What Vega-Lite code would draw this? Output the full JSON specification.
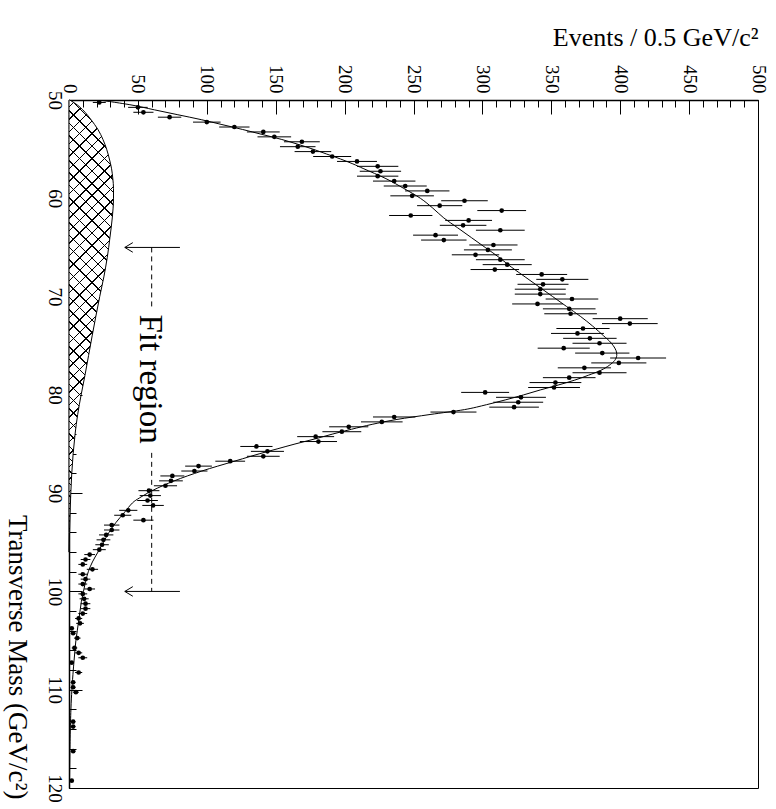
{
"$schema": "https://vega.github.io/schema/vega-lite/v6.json",
"width": 689, "height": 688,
"autosize": {"type": "none"},
"padding": {"left": 69, "top": 100, "right": 18, "bottom": 21},
"background": "white",
"config": {
 "view": {"stroke": "black", "strokeWidth": 1},
 "font": "Liberation Serif",
 "axis": {"grid": false, "domainColor": "black", "tickColor": "black", "labelColor": "black", "titleColor": "black", "labelFont": "Liberation Serif", "titleFont": "Liberation Serif", "titleFontWeight": "normal", "tickWidth": 1}
},
"datasets": {
 "pts": [
 {"m":50.25,"n":22,"e":4.7},{"m":50.75,"n":50,"e":7.1},{"m":51.25,"n":54,"e":7.3},{"m":51.75,"n":73,"e":8.5},
 {"m":52.25,"n":100,"e":10},{"m":52.75,"n":120,"e":11},{"m":53.25,"n":141,"e":11.9},{"m":53.75,"n":149,"e":12.2},
 {"m":54.25,"n":169,"e":13},{"m":54.75,"n":166,"e":12.9},{"m":55.25,"n":177,"e":13.3},{"m":55.75,"n":191,"e":13.8},
 {"m":56.25,"n":209,"e":14.5},{"m":56.75,"n":224,"e":15},{"m":57.25,"n":226,"e":15},{"m":57.75,"n":224,"e":15},
 {"m":58.25,"n":236,"e":15.4},{"m":58.75,"n":244,"e":15.6},{"m":59.25,"n":260,"e":16.1},{"m":59.75,"n":249,"e":15.8},
 {"m":60.25,"n":287,"e":16.9},{"m":60.75,"n":269,"e":16.4},{"m":61.25,"n":314,"e":17.7},{"m":61.75,"n":248,"e":15.7},
 {"m":62.25,"n":290,"e":17},{"m":62.75,"n":286,"e":16.9},{"m":63.25,"n":313,"e":17.7},{"m":63.75,"n":266,"e":16.3},
 {"m":64.25,"n":272,"e":16.5},{"m":64.75,"n":308,"e":17.5},{"m":65.25,"n":304,"e":17.4},{"m":65.75,"n":295,"e":17.2},
 {"m":66.25,"n":313,"e":17.7},{"m":66.75,"n":318,"e":17.8},{"m":67.25,"n":309,"e":17.6},{"m":67.75,"n":343,"e":18.5},
 {"m":68.25,"n":358,"e":18.9},{"m":68.75,"n":344,"e":18.5},{"m":69.25,"n":342,"e":18.5},{"m":69.75,"n":342,"e":18.5},
 {"m":70.25,"n":365,"e":19.1},{"m":70.75,"n":340,"e":18.4},{"m":71.25,"n":363,"e":19.1},{"m":71.75,"n":364,"e":19.1},
 {"m":72.25,"n":400,"e":20},{"m":72.75,"n":407,"e":20.2},{"m":73.25,"n":373,"e":19.3},{"m":73.75,"n":369,"e":19.2},
 {"m":74.25,"n":378,"e":19.4},{"m":74.75,"n":385,"e":19.6},{"m":75.25,"n":359,"e":18.9},{"m":75.75,"n":387,"e":19.7},
 {"m":76.25,"n":413,"e":20.3},{"m":76.75,"n":399,"e":20},{"m":77.25,"n":374,"e":19.3},{"m":77.75,"n":385,"e":19.6},
 {"m":78.25,"n":363,"e":19.1},{"m":78.75,"n":353,"e":18.8},{"m":79.25,"n":352,"e":18.8},{"m":79.75,"n":302,"e":17.4},
 {"m":80.25,"n":328,"e":18.1},{"m":80.75,"n":326,"e":18.1},{"m":81.25,"n":323,"e":18},{"m":81.75,"n":279,"e":16.7},
 {"m":82.25,"n":236,"e":15.4},{"m":82.75,"n":227,"e":15.1},{"m":83.25,"n":203,"e":14.2},{"m":83.75,"n":198,"e":14.1},
 {"m":84.25,"n":179,"e":13.4},{"m":84.75,"n":181,"e":13.5},{"m":85.25,"n":136,"e":11.7},{"m":85.75,"n":144,"e":12},
 {"m":86.25,"n":141,"e":11.9},{"m":86.75,"n":117,"e":10.8},{"m":87.25,"n":94,"e":9.7},{"m":87.75,"n":91,"e":9.5},
 {"m":88.25,"n":75,"e":8.7},{"m":88.75,"n":74,"e":8.6},{"m":89.25,"n":70,"e":8.4},{"m":89.75,"n":58,"e":7.6},
 {"m":90.25,"n":59,"e":7.7},{"m":90.75,"n":57,"e":7.5},{"m":91.25,"n":61,"e":7.8},{"m":91.75,"n":43,"e":6.6},
 {"m":92.25,"n":39,"e":6.2},{"m":92.75,"n":54,"e":7.3},{"m":93.25,"n":31,"e":5.6},{"m":93.75,"n":31,"e":5.6},
 {"m":94.25,"n":27,"e":5.2},{"m":94.75,"n":25,"e":5},{"m":95.25,"n":24,"e":4.9},{"m":95.75,"n":22,"e":4.7},
 {"m":96.25,"n":15,"e":3.9},{"m":96.75,"n":12,"e":3.5},{"m":97.25,"n":10,"e":3.2},{"m":97.75,"n":17,"e":4.1},
 {"m":98.25,"n":10,"e":3.2},{"m":98.75,"n":12,"e":3.5},{"m":99.25,"n":10,"e":3.2},{"m":99.75,"n":15,"e":3.9},
 {"m":100.25,"n":10,"e":3.2},{"m":100.75,"n":11,"e":3.3},{"m":101.25,"n":12,"e":3.5},{"m":101.75,"n":12,"e":3.5},
 {"m":102.25,"n":10,"e":3.2},{"m":102.75,"n":7,"e":2.6},{"m":103.25,"n":8,"e":2.8},{"m":103.75,"n":2,"e":1.4},
 {"m":104.25,"n":3,"e":1.7},{"m":104.75,"n":6,"e":2.4},{"m":105.75,"n":4,"e":2},{"m":106.25,"n":7,"e":2.6},
 {"m":106.75,"n":10,"e":3.2},{"m":107.25,"n":2,"e":1.4},{"m":108.25,"n":7,"e":2.6},{"m":109.25,"n":3,"e":1.7},
 {"m":109.75,"n":3,"e":1.7},{"m":110.25,"n":5,"e":2.2},{"m":113.25,"n":3,"e":1.7},{"m":113.75,"n":3,"e":1.7},
 {"m":116.25,"n":3,"e":1.7},{"m":119.25,"n":2,"e":1.4}
 ],
 "fit": [
 {"m":50,"f":22},{"m":50.5,"f":45},{"m":51,"f":62},{"m":51.5,"f":79},{"m":52,"f":96},{"m":52.5,"f":111},{"m":53,"f":126},{"m":53.5,"f":140},
 {"m":54,"f":154},{"m":54.5,"f":166},{"m":55,"f":177},{"m":55.5,"f":187},{"m":56,"f":197},{"m":56.5,"f":206},{"m":57,"f":214},{"m":58,"f":230},
 {"m":59,"f":243},{"m":60,"f":255},{"m":61,"f":264},{"m":62,"f":272},{"m":63,"f":282},{"m":64,"f":292},{"m":65,"f":302},{"m":66,"f":312},
 {"m":67,"f":321},{"m":68,"f":331},{"m":69,"f":341},{"m":70,"f":351},{"m":71,"f":361},{"m":72,"f":371},{"m":73,"f":380},{"m":74,"f":388},
 {"m":74.5,"f":392},{"m":75,"f":395},{"m":75.5,"f":397},{"m":76,"f":397.5},{"m":76.5,"f":396},{"m":77,"f":392},{"m":77.5,"f":386},{"m":78,"f":377},
 {"m":78.5,"f":367},{"m":79,"f":355},{"m":79.5,"f":342},{"m":80,"f":330},{"m":80.5,"f":317},{"m":81,"f":303},{"m":81.5,"f":287},{"m":82,"f":262},
 {"m":82.5,"f":238},{"m":83,"f":220},{"m":83.5,"f":205},{"m":84,"f":191},{"m":84.5,"f":178},{"m":85,"f":164},{"m":85.5,"f":151},{"m":86,"f":138},
 {"m":86.5,"f":126},{"m":87,"f":114},{"m":87.5,"f":102},{"m":88,"f":91},{"m":88.5,"f":81},{"m":89,"f":72},{"m":89.5,"f":64},{"m":90,"f":57},
 {"m":90.5,"f":51},{"m":91,"f":46},{"m":92,"f":40},{"m":93,"f":34},{"m":94,"f":29},{"m":95,"f":25},{"m":96,"f":21},{"m":97,"f":17},
 {"m":98,"f":14},{"m":99,"f":12},{"m":100,"f":10.5},{"m":101,"f":9},{"m":102,"f":8},{"m":103,"f":7},{"m":104,"f":6},{"m":105,"f":5},
 {"m":106,"f":4.3},{"m":107,"f":3.7},{"m":108,"f":3.1},{"m":110,"f":2.1},{"m":112,"f":1.4},{"m":115,"f":0.8},{"m":120,"f":0.3}
 ],
 "bg": [
 {"m":50,"b":0.5},{"m":50.5,"b":6},{"m":51,"b":10},{"m":51.5,"b":13.2},{"m":52,"b":16},{"m":52.5,"b":18.6},{"m":53,"b":21},{"m":54,"b":24.6},
 {"m":55,"b":27.3},{"m":56,"b":29.3},{"m":57,"b":30.9},{"m":58,"b":31.8},{"m":59,"b":32.3},{"m":60,"b":32.3},{"m":61,"b":32},{"m":62,"b":31.4},
 {"m":63,"b":30.6},{"m":64,"b":29.7},{"m":65,"b":28.8},{"m":66,"b":27.8},{"m":67,"b":26.6},{"m":68,"b":25.3},{"m":70,"b":22.3},{"m":72,"b":19.5},
 {"m":74,"b":16.8},{"m":76,"b":14.2},{"m":78,"b":11.6},{"m":80,"b":8.8},{"m":82,"b":6.3},{"m":84,"b":4.4},{"m":86,"b":3},{"m":88,"b":2},
 {"m":90,"b":1.3},{"m":92,"b":0.8},{"m":94,"b":0.4},{"m":96,"b":0.1}
 ],
 "arrows": [{"m":65,"e1":40.5,"e2":80.5},{"m":100,"e1":40.5,"e2":80.5}],
 "dash": [{"e":60,"m1":65,"m2":71.1},{"e":60,"m1":85.9,"m2":100}],
 "label": [{"m":78.4,"e":59,"t":"Fit region"}]
},
"layer": [
 {
  "data": {"name": "bg"},
  "mark": {"type": "area", "orient": "horizontal", "interpolate": "monotone", "stroke": null,
   "fill": {"gradient": "linear", "x1": 0, "y1": 0, "x2": 0.1071, "y2": 1.0879, "stops": [
{"offset":0.0125,"color":"white"},{"offset":0.0125,"color":"black"},{"offset":0.0155,"color":"black"},{"offset":0.0155,"color":"white"},
{"offset":0.0375,"color":"white"},{"offset":0.0375,"color":"black"},{"offset":0.0405,"color":"black"},{"offset":0.0405,"color":"white"},
{"offset":0.0625,"color":"white"},{"offset":0.0625,"color":"black"},{"offset":0.0655,"color":"black"},{"offset":0.0655,"color":"white"},
{"offset":0.0875,"color":"white"},{"offset":0.0875,"color":"black"},{"offset":0.0905,"color":"black"},{"offset":0.0905,"color":"white"},
{"offset":0.1125,"color":"white"},{"offset":0.1125,"color":"black"},{"offset":0.1155,"color":"black"},{"offset":0.1155,"color":"white"},
{"offset":0.1375,"color":"white"},{"offset":0.1375,"color":"black"},{"offset":0.1405,"color":"black"},{"offset":0.1405,"color":"white"},
{"offset":0.1625,"color":"white"},{"offset":0.1625,"color":"black"},{"offset":0.1655,"color":"black"},{"offset":0.1655,"color":"white"},
{"offset":0.1875,"color":"white"},{"offset":0.1875,"color":"black"},{"offset":0.1905,"color":"black"},{"offset":0.1905,"color":"white"},
{"offset":0.2125,"color":"white"},{"offset":0.2125,"color":"black"},{"offset":0.2155,"color":"black"},{"offset":0.2155,"color":"white"},
{"offset":0.2375,"color":"white"},{"offset":0.2375,"color":"black"},{"offset":0.2405,"color":"black"},{"offset":0.2405,"color":"white"},
{"offset":0.2625,"color":"white"},{"offset":0.2625,"color":"black"},{"offset":0.2655,"color":"black"},{"offset":0.2655,"color":"white"},
{"offset":0.2875,"color":"white"},{"offset":0.2875,"color":"black"},{"offset":0.2905,"color":"black"},{"offset":0.2905,"color":"white"},
{"offset":0.3125,"color":"white"},{"offset":0.3125,"color":"black"},{"offset":0.3155,"color":"black"},{"offset":0.3155,"color":"white"},
{"offset":0.3375,"color":"white"},{"offset":0.3375,"color":"black"},{"offset":0.3405,"color":"black"},{"offset":0.3405,"color":"white"},
{"offset":0.3625,"color":"white"},{"offset":0.3625,"color":"black"},{"offset":0.3655,"color":"black"},{"offset":0.3655,"color":"white"},
{"offset":0.3875,"color":"white"},{"offset":0.3875,"color":"black"},{"offset":0.3905,"color":"black"},{"offset":0.3905,"color":"white"},
{"offset":0.4125,"color":"white"},{"offset":0.4125,"color":"black"},{"offset":0.4155,"color":"black"},{"offset":0.4155,"color":"white"},
{"offset":0.4375,"color":"white"},{"offset":0.4375,"color":"black"},{"offset":0.4405,"color":"black"},{"offset":0.4405,"color":"white"},
{"offset":0.4625,"color":"white"},{"offset":0.4625,"color":"black"},{"offset":0.4655,"color":"black"},{"offset":0.4655,"color":"white"},
{"offset":0.4875,"color":"white"},{"offset":0.4875,"color":"black"},{"offset":0.4905,"color":"black"},{"offset":0.4905,"color":"white"},
{"offset":0.5125,"color":"white"},{"offset":0.5125,"color":"black"},{"offset":0.5155,"color":"black"},{"offset":0.5155,"color":"white"},
{"offset":0.5375,"color":"white"},{"offset":0.5375,"color":"black"},{"offset":0.5405,"color":"black"},{"offset":0.5405,"color":"white"},
{"offset":0.5625,"color":"white"},{"offset":0.5625,"color":"black"},{"offset":0.5655,"color":"black"},{"offset":0.5655,"color":"white"},
{"offset":0.5875,"color":"white"},{"offset":0.5875,"color":"black"},{"offset":0.5905,"color":"black"},{"offset":0.5905,"color":"white"},
{"offset":0.6125,"color":"white"},{"offset":0.6125,"color":"black"},{"offset":0.6155,"color":"black"},{"offset":0.6155,"color":"white"},
{"offset":0.6375,"color":"white"},{"offset":0.6375,"color":"black"},{"offset":0.6405,"color":"black"},{"offset":0.6405,"color":"white"},
{"offset":0.6625,"color":"white"},{"offset":0.6625,"color":"black"},{"offset":0.6655,"color":"black"},{"offset":0.6655,"color":"white"},
{"offset":0.6875,"color":"white"},{"offset":0.6875,"color":"black"},{"offset":0.6905,"color":"black"},{"offset":0.6905,"color":"white"},
{"offset":0.7125,"color":"white"},{"offset":0.7125,"color":"black"},{"offset":0.7155,"color":"black"},{"offset":0.7155,"color":"white"},
{"offset":0.7375,"color":"white"},{"offset":0.7375,"color":"black"},{"offset":0.7405,"color":"black"},{"offset":0.7405,"color":"white"},
{"offset":0.7625,"color":"white"},{"offset":0.7625,"color":"black"},{"offset":0.7655,"color":"black"},{"offset":0.7655,"color":"white"},
{"offset":0.7875,"color":"white"},{"offset":0.7875,"color":"black"},{"offset":0.7905,"color":"black"},{"offset":0.7905,"color":"white"},
{"offset":0.8125,"color":"white"},{"offset":0.8125,"color":"black"},{"offset":0.8155,"color":"black"},{"offset":0.8155,"color":"white"},
{"offset":0.8375,"color":"white"},{"offset":0.8375,"color":"black"},{"offset":0.8405,"color":"black"},{"offset":0.8405,"color":"white"},
{"offset":0.8625,"color":"white"},{"offset":0.8625,"color":"black"},{"offset":0.8655,"color":"black"},{"offset":0.8655,"color":"white"},
{"offset":0.8875,"color":"white"},{"offset":0.8875,"color":"black"},{"offset":0.8905,"color":"black"},{"offset":0.8905,"color":"white"},
{"offset":0.9125,"color":"white"},{"offset":0.9125,"color":"black"},{"offset":0.9155,"color":"black"},{"offset":0.9155,"color":"white"},
{"offset":0.9375,"color":"white"},{"offset":0.9375,"color":"black"},{"offset":0.9405,"color":"black"},{"offset":0.9405,"color":"white"},
{"offset":0.9625,"color":"white"},{"offset":0.9625,"color":"black"},{"offset":0.9655,"color":"black"},{"offset":0.9655,"color":"white"},
{"offset":0.9875,"color":"white"},{"offset":0.9875,"color":"black"},{"offset":0.9905,"color":"black"},{"offset":0.9905,"color":"white"}
   ]}},
  "encoding": {
   "y": {"field": "m", "type": "quantitative", "scale": {"domain": [50, 120], "reverse": true, "nice": false, "zero": false},
    "axis": {"orient": "left", "values": [50,60,70,80,90,100,110,120], "tickSize": -13, "domainWidth": 1.5,
     "labelAngle": 90, "labelAlign": "center", "labelBaseline": "top", "labelPadding": 19, "labelFontSize": 19, "labelFont": "Liberation Serif",
     "labelFlush": false, "labelOverlap": false, "labelBound": false,
     "title": "Transverse Mass (GeV/c²)", "titleFont": "Liberation Serif", "titleAngle": 90, "titleFontSize": 27, "titleAlign": "right", "titleBaseline": "alphabetic", "titleX": -61, "titleY": 699}},
   "x": {"field": "b", "type": "quantitative", "scale": {"domain": [0, 500], "nice": false, "zero": false},
    "axis": {"orient": "top", "values": [0,50,100,150,200,250,300,350,400,450,500], "tickSize": -14, "domainWidth": 1.5,
     "labelAngle": 90, "labelAlign": "right", "labelBaseline": "middle", "labelPadding": 21, "labelFontSize": 19, "labelFont": "Liberation Serif",
     "labelFlush": false, "labelOverlap": false, "labelBound": false,
     "title": "Events / 0.5 GeV/c²", "titleFont": "Liberation Serif", "titleAngle": 0, "titleFontSize": 26, "titleAlign": "right", "titleBaseline": "alphabetic", "titleX": 689, "titleY": -55}},
   "x2": {"datum": 0}
  }
 },
 {
  "data": {"name": "bg"},
  "mark": {"type": "area", "orient": "horizontal", "interpolate": "monotone", "stroke": "black", "strokeWidth": 1,
   "fill": {"gradient": "linear", "x1": 0, "y1": 1, "x2": 0.1071, "y2": -0.0879, "stops": [
{"offset":0.0125,"color":"transparent"},{"offset":0.0125,"color":"black"},{"offset":0.0155,"color":"black"},{"offset":0.0155,"color":"transparent"},
{"offset":0.0375,"color":"transparent"},{"offset":0.0375,"color":"black"},{"offset":0.0405,"color":"black"},{"offset":0.0405,"color":"transparent"},
{"offset":0.0625,"color":"transparent"},{"offset":0.0625,"color":"black"},{"offset":0.0655,"color":"black"},{"offset":0.0655,"color":"transparent"},
{"offset":0.0875,"color":"transparent"},{"offset":0.0875,"color":"black"},{"offset":0.0905,"color":"black"},{"offset":0.0905,"color":"transparent"},
{"offset":0.1125,"color":"transparent"},{"offset":0.1125,"color":"black"},{"offset":0.1155,"color":"black"},{"offset":0.1155,"color":"transparent"},
{"offset":0.1375,"color":"transparent"},{"offset":0.1375,"color":"black"},{"offset":0.1405,"color":"black"},{"offset":0.1405,"color":"transparent"},
{"offset":0.1625,"color":"transparent"},{"offset":0.1625,"color":"black"},{"offset":0.1655,"color":"black"},{"offset":0.1655,"color":"transparent"},
{"offset":0.1875,"color":"transparent"},{"offset":0.1875,"color":"black"},{"offset":0.1905,"color":"black"},{"offset":0.1905,"color":"transparent"},
{"offset":0.2125,"color":"transparent"},{"offset":0.2125,"color":"black"},{"offset":0.2155,"color":"black"},{"offset":0.2155,"color":"transparent"},
{"offset":0.2375,"color":"transparent"},{"offset":0.2375,"color":"black"},{"offset":0.2405,"color":"black"},{"offset":0.2405,"color":"transparent"},
{"offset":0.2625,"color":"transparent"},{"offset":0.2625,"color":"black"},{"offset":0.2655,"color":"black"},{"offset":0.2655,"color":"transparent"},
{"offset":0.2875,"color":"transparent"},{"offset":0.2875,"color":"black"},{"offset":0.2905,"color":"black"},{"offset":0.2905,"color":"transparent"},
{"offset":0.3125,"color":"transparent"},{"offset":0.3125,"color":"black"},{"offset":0.3155,"color":"black"},{"offset":0.3155,"color":"transparent"},
{"offset":0.3375,"color":"transparent"},{"offset":0.3375,"color":"black"},{"offset":0.3405,"color":"black"},{"offset":0.3405,"color":"transparent"},
{"offset":0.3625,"color":"transparent"},{"offset":0.3625,"color":"black"},{"offset":0.3655,"color":"black"},{"offset":0.3655,"color":"transparent"},
{"offset":0.3875,"color":"transparent"},{"offset":0.3875,"color":"black"},{"offset":0.3905,"color":"black"},{"offset":0.3905,"color":"transparent"},
{"offset":0.4125,"color":"transparent"},{"offset":0.4125,"color":"black"},{"offset":0.4155,"color":"black"},{"offset":0.4155,"color":"transparent"},
{"offset":0.4375,"color":"transparent"},{"offset":0.4375,"color":"black"},{"offset":0.4405,"color":"black"},{"offset":0.4405,"color":"transparent"},
{"offset":0.4625,"color":"transparent"},{"offset":0.4625,"color":"black"},{"offset":0.4655,"color":"black"},{"offset":0.4655,"color":"transparent"},
{"offset":0.4875,"color":"transparent"},{"offset":0.4875,"color":"black"},{"offset":0.4905,"color":"black"},{"offset":0.4905,"color":"transparent"},
{"offset":0.5125,"color":"transparent"},{"offset":0.5125,"color":"black"},{"offset":0.5155,"color":"black"},{"offset":0.5155,"color":"transparent"},
{"offset":0.5375,"color":"transparent"},{"offset":0.5375,"color":"black"},{"offset":0.5405,"color":"black"},{"offset":0.5405,"color":"transparent"},
{"offset":0.5625,"color":"transparent"},{"offset":0.5625,"color":"black"},{"offset":0.5655,"color":"black"},{"offset":0.5655,"color":"transparent"},
{"offset":0.5875,"color":"transparent"},{"offset":0.5875,"color":"black"},{"offset":0.5905,"color":"black"},{"offset":0.5905,"color":"transparent"},
{"offset":0.6125,"color":"transparent"},{"offset":0.6125,"color":"black"},{"offset":0.6155,"color":"black"},{"offset":0.6155,"color":"transparent"},
{"offset":0.6375,"color":"transparent"},{"offset":0.6375,"color":"black"},{"offset":0.6405,"color":"black"},{"offset":0.6405,"color":"transparent"},
{"offset":0.6625,"color":"transparent"},{"offset":0.6625,"color":"black"},{"offset":0.6655,"color":"black"},{"offset":0.6655,"color":"transparent"},
{"offset":0.6875,"color":"transparent"},{"offset":0.6875,"color":"black"},{"offset":0.6905,"color":"black"},{"offset":0.6905,"color":"transparent"},
{"offset":0.7125,"color":"transparent"},{"offset":0.7125,"color":"black"},{"offset":0.7155,"color":"black"},{"offset":0.7155,"color":"transparent"},
{"offset":0.7375,"color":"transparent"},{"offset":0.7375,"color":"black"},{"offset":0.7405,"color":"black"},{"offset":0.7405,"color":"transparent"},
{"offset":0.7625,"color":"transparent"},{"offset":0.7625,"color":"black"},{"offset":0.7655,"color":"black"},{"offset":0.7655,"color":"transparent"},
{"offset":0.7875,"color":"transparent"},{"offset":0.7875,"color":"black"},{"offset":0.7905,"color":"black"},{"offset":0.7905,"color":"transparent"},
{"offset":0.8125,"color":"transparent"},{"offset":0.8125,"color":"black"},{"offset":0.8155,"color":"black"},{"offset":0.8155,"color":"transparent"},
{"offset":0.8375,"color":"transparent"},{"offset":0.8375,"color":"black"},{"offset":0.8405,"color":"black"},{"offset":0.8405,"color":"transparent"},
{"offset":0.8625,"color":"transparent"},{"offset":0.8625,"color":"black"},{"offset":0.8655,"color":"black"},{"offset":0.8655,"color":"transparent"},
{"offset":0.8875,"color":"transparent"},{"offset":0.8875,"color":"black"},{"offset":0.8905,"color":"black"},{"offset":0.8905,"color":"transparent"},
{"offset":0.9125,"color":"transparent"},{"offset":0.9125,"color":"black"},{"offset":0.9155,"color":"black"},{"offset":0.9155,"color":"transparent"},
{"offset":0.9375,"color":"transparent"},{"offset":0.9375,"color":"black"},{"offset":0.9405,"color":"black"},{"offset":0.9405,"color":"transparent"},
{"offset":0.9625,"color":"transparent"},{"offset":0.9625,"color":"black"},{"offset":0.9655,"color":"black"},{"offset":0.9655,"color":"transparent"},
{"offset":0.9875,"color":"transparent"},{"offset":0.9875,"color":"black"},{"offset":0.9905,"color":"black"},{"offset":0.9905,"color":"transparent"}
   ]}},
  "encoding": {
   "y": {"field": "m", "type": "quantitative", "scale": {"domain": [50, 120], "reverse": true, "nice": false, "zero": false},
    "axis": {"orient": "left", "values": [50,52,54,56,58,60,62,64,66,68,70,72,74,76,78,80,82,84,86,88,90,92,94,96,98,100,102,104,106,108,110,112,114,116,118,120], "tickSize": -7, "labels": false, "domain": false, "title": null}},
   "x": {"field": "b", "type": "quantitative", "scale": {"domain": [0, 500], "nice": false, "zero": false},
    "axis": {"orient": "top", "values": [0,10,20,30,40,50,60,70,80,90,100,110,120,130,140,150,160,170,180,190,200,210,220,230,240,250,260,270,280,290,300,310,320,330,340,350,360,370,380,390,400,410,420,430,440,450,460,470,480,490,500], "tickSize": -7, "labels": false, "domain": false, "title": null}},
   "x2": {"datum": 0}
  }
 },
 {
  "data": {"name": "fit"},
  "mark": {"type": "line", "color": "black", "strokeWidth": 1, "interpolate": "cardinal", "clip": true},
  "encoding": {
   "y": {"field": "m", "type": "quantitative", "scale": {"domain": [50, 120], "reverse": true, "nice": false, "zero": false}, "axis": null},
   "x": {"field": "f", "type": "quantitative", "scale": {"domain": [0, 500], "nice": false, "zero": false}, "axis": null},
   "order": {"field": "m", "type": "quantitative"}
  }
 },
 {
  "data": {"name": "pts"},
  "mark": {"type": "errorbar", "color": "black", "thickness": 1},
  "encoding": {
   "y": {"field": "m", "type": "quantitative", "scale": {"domain": [50, 120], "reverse": true, "nice": false, "zero": false}, "axis": null},
   "x": {"field": "n", "type": "quantitative", "scale": {"domain": [0, 500], "nice": false, "zero": false}, "axis": null},
   "xError": {"field": "e"}
  }
 },
 {
  "data": {"name": "pts"},
  "mark": {"type": "circle", "color": "black", "size": 22, "opacity": 1},
  "encoding": {
   "y": {"field": "m", "type": "quantitative", "scale": {"domain": [50, 120], "reverse": true, "nice": false, "zero": false}, "axis": null},
   "x": {"field": "n", "type": "quantitative", "scale": {"domain": [0, 500], "nice": false, "zero": false}, "axis": null}
  }
 },
 {
  "data": {"name": "arrows"},
  "mark": {"type": "rule", "color": "black", "strokeWidth": 1},
  "encoding": {
   "y": {"field": "m", "type": "quantitative", "scale": {"domain": [50, 120], "reverse": true, "nice": false, "zero": false}, "axis": null},
   "x": {"field": "e1", "type": "quantitative", "scale": {"domain": [0, 500], "nice": false, "zero": false}, "axis": null},
   "x2": {"field": "e2"}
  }
 },
 {
  "data": {"name": "arrows"},
  "mark": {"type": "point", "shape": "M0,0L1,-0.6M0,0L1,0.6", "filled": false, "stroke": "black", "strokeWidth": 1, "size": 256, "opacity": 1},
  "encoding": {
   "y": {"field": "m", "type": "quantitative", "scale": {"domain": [50, 120], "reverse": true, "nice": false, "zero": false}, "axis": null},
   "x": {"field": "e1", "type": "quantitative", "scale": {"domain": [0, 500], "nice": false, "zero": false}, "axis": null}
  }
 },
 {
  "data": {"name": "dash"},
  "mark": {"type": "rule", "color": "black", "strokeWidth": 1, "strokeDash": [5, 4]},
  "encoding": {
   "x": {"field": "e", "type": "quantitative", "scale": {"domain": [0, 500], "nice": false, "zero": false}, "axis": null},
   "y": {"field": "m1", "type": "quantitative", "scale": {"domain": [50, 120], "reverse": true, "nice": false, "zero": false}, "axis": null},
   "y2": {"field": "m2"}
  }
 },
 {
  "data": {"name": "label"},
  "mark": {"type": "text", "angle": 90, "font": "Liberation Serif", "fontSize": 33, "align": "center", "baseline": "middle", "color": "black"},
  "encoding": {
   "y": {"field": "m", "type": "quantitative", "scale": {"domain": [50, 120], "reverse": true, "nice": false, "zero": false}, "axis": null},
   "x": {"field": "e", "type": "quantitative", "scale": {"domain": [0, 500], "nice": false, "zero": false}, "axis": null},
   "text": {"field": "t"}
  }
 }
],
"resolve": {"axis": {"x": "independent", "y": "independent"}}
}
